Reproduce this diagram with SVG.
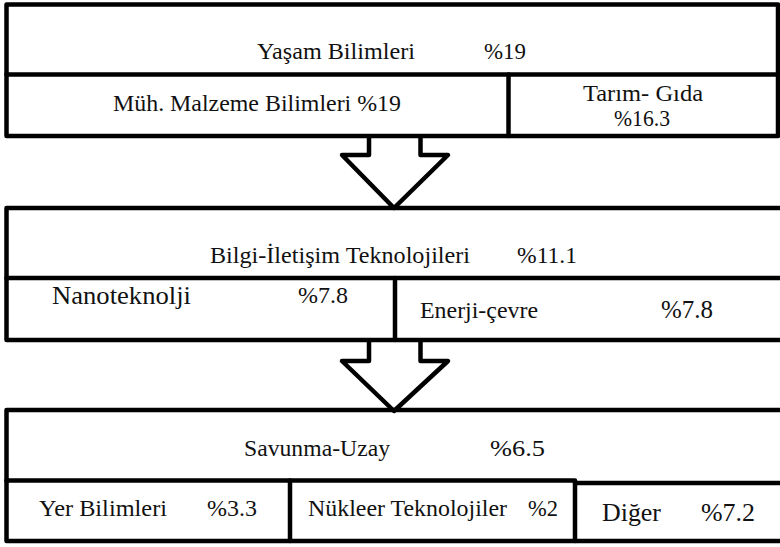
<svg xmlns="http://www.w3.org/2000/svg" width="780" height="547" viewBox="0 0 780 547">
<style>
.b{fill:none;stroke:#000;stroke-width:4.5;stroke-linejoin:round;stroke-linecap:round}
.a{fill:#fff;stroke:#000;stroke-width:4.5;stroke-linejoin:round}
text{font-family:"Liberation Serif","Times New Roman",serif;font-size:24px;fill:#111}
.L{font-size:26px}
</style>
<rect width="780" height="547" fill="#fff"/>
<g id="connectors">
<path class="a" d="M369 136 V155 H342 L394 208 L448 155 H420.5 V136"/>
<path class="a" d="M369 340 V361 H342 L394 411 L448 361 H420.5 V340"/>
</g>
<g id="box1">
<rect class="b" x="6.5" y="4.5" width="771.5" height="131.5"/>
<line class="b" x1="6.5" y1="74.5" x2="778" y2="74.5"/>
<line class="b" x1="508.5" y1="74.5" x2="508.5" y2="136"/>
<text x="257" y="59" textLength="158" lengthAdjust="spacingAndGlyphs">Yaşam Bilimleri</text>
<text x="484" y="59" textLength="42" lengthAdjust="spacingAndGlyphs">%19</text>
<text x="113" y="111" textLength="288" lengthAdjust="spacingAndGlyphs">Müh. Malzeme Bilimleri %19</text>
<text x="583" y="101" textLength="120" lengthAdjust="spacingAndGlyphs">Tarım- Gıda</text>
<text x="614" y="126" textLength="56" lengthAdjust="spacingAndGlyphs">%16.3</text>
</g>
<g id="box2">
<path class="b" d="M784 208 H6.5 V340 H784"/>
<line class="b" x1="6.5" y1="278" x2="784" y2="278"/>
<line class="b" x1="395" y1="278" x2="395" y2="340"/>
<text x="210" y="263" textLength="260" lengthAdjust="spacingAndGlyphs">Bilgi-İletişim Teknolojileri</text>
<text x="517" y="263" textLength="60" lengthAdjust="spacingAndGlyphs">%11.1</text>
<text class="L" x="52" y="304" textLength="139" lengthAdjust="spacingAndGlyphs">Nanoteknolji</text>
<text x="298" y="303" textLength="50" lengthAdjust="spacingAndGlyphs">%7.8</text>
<text x="420" y="318" textLength="118" lengthAdjust="spacingAndGlyphs">Enerji-çevre</text>
<text class="L" x="661" y="318" textLength="52" lengthAdjust="spacingAndGlyphs">%7.8</text>
</g>
<g id="box3">
<path class="b" d="M784 410 H6.5 V541 H784"/>
<path class="b" d="M6.5 480.5 H575 V541"/>
<line class="b" x1="290" y1="480.5" x2="290" y2="541"/>
<line class="b" x1="575" y1="483" x2="784" y2="483"/>
<text x="244" y="456" textLength="146" lengthAdjust="spacingAndGlyphs">Savunma-Uzay</text>
<text x="490" y="456" textLength="55" lengthAdjust="spacingAndGlyphs">%6.5</text>
<text x="39" y="516" textLength="128" lengthAdjust="spacingAndGlyphs">Yer Bilimleri</text>
<text x="207" y="516" textLength="50" lengthAdjust="spacingAndGlyphs">%3.3</text>
<text x="308" y="516" style="font-size:23.5px" textLength="199" lengthAdjust="spacingAndGlyphs">Nükleer Teknolojiler</text>
<text x="528" y="516" textLength="30" lengthAdjust="spacingAndGlyphs">%2</text>
<text class="L" x="602" y="521" textLength="59" lengthAdjust="spacingAndGlyphs">Diğer</text>
<text class="L" x="701" y="521" textLength="54" lengthAdjust="spacingAndGlyphs">%7.2</text>
</g>
</svg>
